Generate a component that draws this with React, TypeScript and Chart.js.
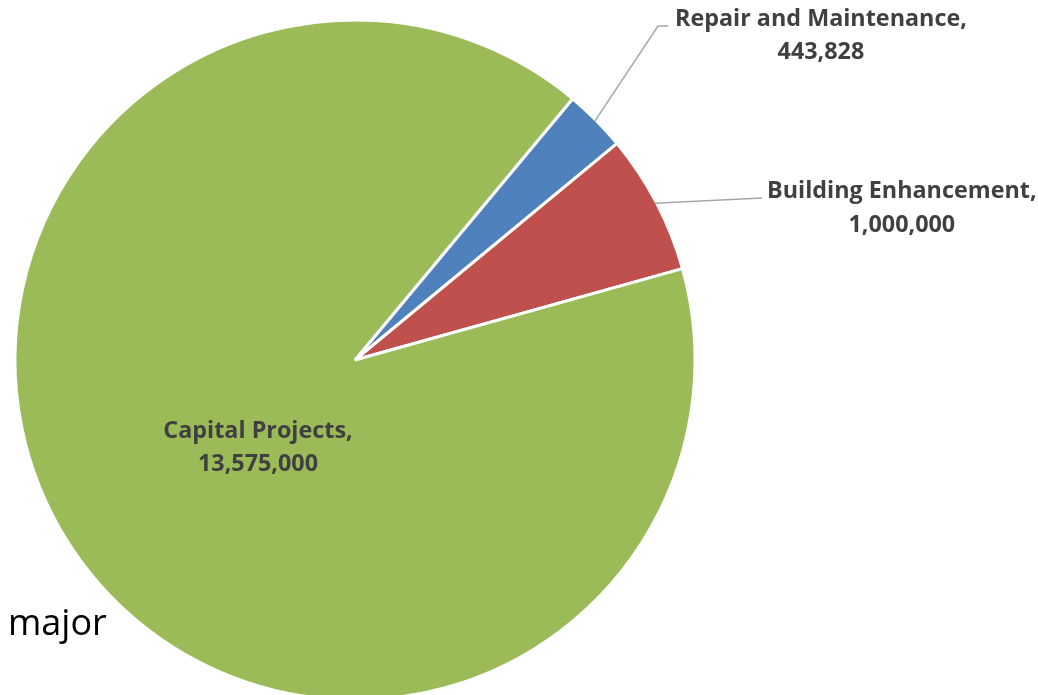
import React, { useEffect, useRef } from "react";
import { Chart, registerables } from "chart.js";

Chart.register(...registerables);

const categories = ["Repair and Maintenance", "Building Enhancement", "Capital Projects"];
const values = [443828, 1000000, 13575000];
const valueLabels = ["443,828", "1,000,000", "13,575,000"];
const colors = ["#4F81BD", "#C0504D", "#9BBB59"];

const TEXT_COLOR = "#404040";
const LINE_COLOR = "#A6A6A6";
const FAMILY = "'Open Sans'";

const labelPlugin = {
  id: "pieLabels",
  afterDraw(chart: any) {
    const ctx = chart.ctx;
    const meta = chart.getDatasetMeta(0);
    ctx.save();
    // fit bold label font to the reference width
    ctx.font = `bold 20px ${FAMILY}`;
    const base = ctx.measureText("Repair and Maintenance,").width;
    const size = (20 * 292) / base;
    ctx.font = `bold ${size}px ${FAMILY}`;
    ctx.fillStyle = TEXT_COLOR;
    ctx.textBaseline = "alphabetic";
    ctx.textAlign = "center";
    meta.data.forEach((arc: any, i: number) => {
      const { x, y, startAngle, endAngle, outerRadius } = arc.getProps(
        ["x", "y", "startAngle", "endAngle", "outerRadius"],
        true
      );
      const mid = (startAngle + endAngle) / 2;
      const l1 = categories[i] + ",";
      const l2 = valueLabels[i];
      const r = outerRadius - 1.5;
      if (i === 0) {
        const sx = x + Math.cos(mid) * r;
        const sy = y + Math.sin(mid) * r;
        const ex = x + 303;
        const ey = y - 334;
        ctx.strokeStyle = LINE_COLOR;
        ctx.lineWidth = 1.5;
        ctx.beginPath();
        ctx.moveTo(sx, sy);
        ctx.lineTo(ex, ey);
        ctx.lineTo(ex + 10, ey);
        ctx.stroke();
        const w = ctx.measureText(l1).width;
        const cx = ex + 17 + w / 2;
        ctx.fillText(l1, cx, y - 334);
        ctx.fillText(l2, cx, y - 301);
      } else if (i === 1) {
        const sx = x + Math.cos(mid) * r;
        const sy = y + Math.sin(mid) * r;
        const ex = x + 407;
        const ey = y - 162;
        ctx.strokeStyle = LINE_COLOR;
        ctx.lineWidth = 1.5;
        ctx.beginPath();
        ctx.moveTo(sx, sy);
        ctx.lineTo(ex, ey);
        ctx.stroke();
        const w = ctx.measureText(l1).width;
        const cx = ex + 5 + w / 2;
        ctx.fillText(l1, cx, y - 162);
        ctx.fillText(l2, cx, y - 128);
      } else {
        const cx = x - 97;
        ctx.fillText(l1, cx, y + 78);
        ctx.fillText(l2, cx, y + 111);
      }
    });
    ctx.font = `36px ${FAMILY}`;
    ctx.fillStyle = "#000000";
    ctx.textAlign = "left";
    ctx.fillText("major", 8, 635);
    ctx.restore();
  },
};

export default function App() {
  const ref = useRef<HTMLCanvasElement>(null);
  useEffect(() => {
    if (!ref.current) return;
    const chart = new Chart(ref.current, {
      type: "pie",
      data: {
        labels: categories,
        datasets: [
          {
            data: values,
            backgroundColor: colors,
            borderColor: "#FFFFFF",
            borderWidth: 3,
          },
        ],
      },
      options: {
        responsive: false,
        animation: false,
        rotation: 39.8,
        layout: { padding: { left: 13.5, top: 18.5, right: 341.5, bottom: 18.5 } },
        plugins: {
          legend: { display: false },
          tooltip: { enabled: false },
        },
      },
      plugins: [labelPlugin],
    });
    return () => chart.destroy();
  }, []);
  return (
    <div
      style={{
        position: "absolute",
        left: 0,
        top: 0,
        width: 1038,
        height: 695,
        overflow: "hidden",
        background: "#fff",
      }}
    >
      <canvas ref={ref} width={1038} height={720} style={{ display: "block" }} />
    </div>
  );
}
